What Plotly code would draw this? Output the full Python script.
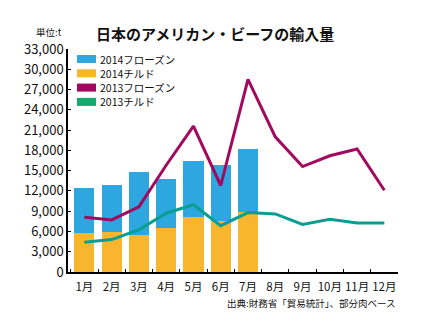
import plotly.graph_objects as go

months = ["1月", "2月", "3月", "4月", "5月", "6月", "7月", "8月", "9月", "10月", "11月", "12月"]
chilled_2014 = [5800, 5900, 5450, 6450, 8200, 7600, 8950]
frozen_2014 = [6700, 7000, 9300, 7350, 8300, 8300, 9300]
frozen_2013 = [8100, 7700, 9650, 15800, 21600, 12800, 28500, 20000, 15600, 17200, 18200, 12100]
chilled_2013 = [4400, 4800, 6250, 8700, 9950, 6850, 8800, 8600, 7050, 7800, 7250, 7250]
y_ticks = list(range(0, 33001, 3000))

C_BLUE = "#2EA6E0"
C_ORANGE = "#F8B52E"
C_MAGENTA = "#A2085E"
C_TEAL = "#0A9E92"
C_GREEN = "#13A86C"
FONT = "Noto Sans CJK JP"

fig = go.Figure()
fig.add_bar(x=months[:len(chilled_2014)], y=chilled_2014, marker_color=C_ORANGE,
            marker_line_width=0, width=0.74, name="2014チルド", showlegend=False)
fig.add_bar(x=months[:len(frozen_2014)], y=frozen_2014, marker_color=C_BLUE,
            marker_line_width=0, width=0.74, name="2014フローズン", showlegend=False)
fig.add_scatter(x=months, y=frozen_2013, mode="lines", line=dict(color=C_MAGENTA, width=3),
                name="2013フローズン", showlegend=False)
fig.add_scatter(x=months, y=chilled_2013, mode="lines", line=dict(color=C_TEAL, width=3),
                name="2013チルド", showlegend=False)

W, H = 421, 330
L, R, T, B = 68, 23, 49, 58
pw, ph = W - L - R, H - T - B

def px(x):
    return (x - L) / pw

def py(y):
    return (H - B - y) / ph

legend_items = [("2014フローズン", C_BLUE), ("2014チルド", C_ORANGE),
                ("2013フローズン", C_MAGENTA), ("2013チルド", C_GREEN)]
shapes = []
annotations = []
for i, (label, col) in enumerate(legend_items):
    cy = 59 + i * 14.3
    shapes.append(dict(type="rect", xref="paper", yref="paper",
                       x0=px(77), x1=px(96), y0=py(cy + 4), y1=py(cy - 4),
                       fillcolor=col, line_width=0))
    annotations.append(dict(text=label, xref="paper", yref="paper", x=px(98), y=py(cy),
                            xanchor="left", yanchor="middle", showarrow=False,
                            font=dict(family=FONT, size=10.5, color="#111")))

annotations.append(dict(text="<b>日本のアメリカン・ビーフの輸入量</b>", xref="paper", yref="paper",
                        x=px(214.5), y=py(33), xanchor="center", yanchor="middle",
                        showarrow=False, font=dict(family=FONT, size=15, color="#111")))
annotations.append(dict(text="単位:t", xref="paper", yref="paper", x=px(64), y=py(32),
                        xanchor="right", yanchor="middle", showarrow=False,
                        font=dict(family=FONT, size=9.5, color="#111")))
annotations.append(dict(text="出典:財務省「貿易統計」、部分肉ベース", xref="paper", yref="paper",
                        x=px(397), y=py(303), xanchor="right", yanchor="middle",
                        showarrow=False, font=dict(family=FONT, size=9.5, color="#111")))

fig.update_layout(
    width=W, height=H, margin=dict(l=L, r=R, t=T, b=B),
    barmode="stack", paper_bgcolor="white", plot_bgcolor="white",
    showlegend=False, shapes=shapes, annotations=annotations,
    font=dict(family=FONT, color="#111"),
)
fig.update_xaxes(type="category", categoryorder="array", categoryarray=months,
                 range=[-0.6, 11.5], tickson="boundaries", ticks="inside", ticklen=3,
                 tickcolor="black", showline=True, linecolor="black", linewidth=1.5,
                 showgrid=False, tickangle=0, automargin=False, ticklabelstandoff=3,
                 tickfont=dict(family=FONT, size=11.5, color="#111"))
fig.update_yaxes(range=[0, 33000], tickvals=y_ticks, tickformat=",", ticks="inside", ticklen=3,
                 tickcolor="black", showline=True, linecolor="black", linewidth=1.5,
                 showgrid=False, zeroline=False, automargin=False,
                 tickfont=dict(family=FONT, size=13, color="#111"))

fig.write_html("out.html")
